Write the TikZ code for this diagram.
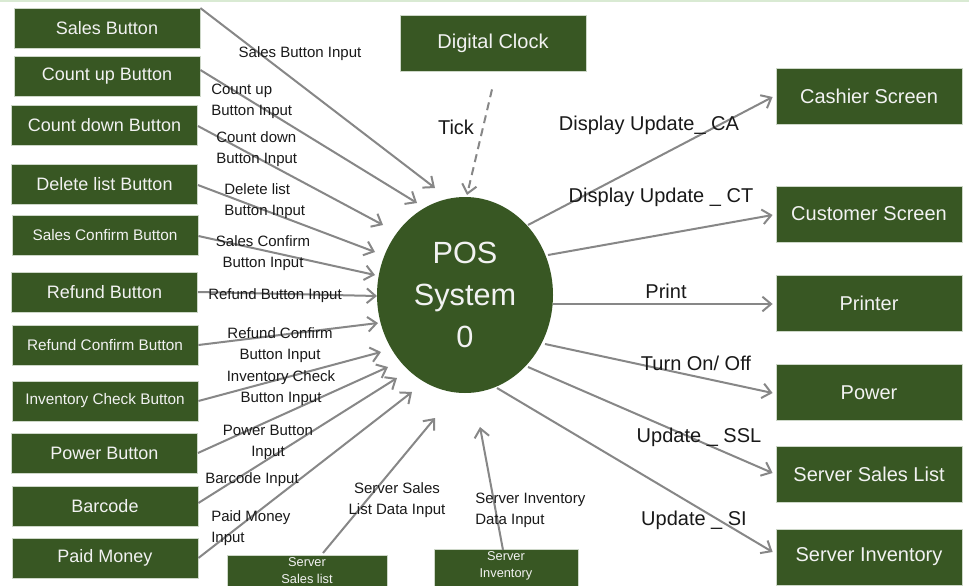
\documentclass[tikz,border=0pt]{standalone}
\usepackage{fontspec}
\setmainfont{Liberation Sans}
\usetikzlibrary{arrows.meta,shapes.geometric}
\definecolor{boxgreen}{RGB}{56,87,35}
\definecolor{boxedge}{RGB}{205,215,200}
\definecolor{linegray}{RGB}{135,135,135}
\definecolor{topgreen}{RGB}{217,234,211}
\definecolor{boxtext}{RGB}{242,242,242}
\definecolor{labtext}{RGB}{25,25,25}
\begin{document}
\begin{tikzpicture}[x=0.75pt,y=-0.75pt,
  gbox/.style={rectangle, fill=boxgreen, draw=boxedge, line width=0.6pt, text=boxtext, inner sep=0pt, align=center},
  lbox/.style={gbox, minimum width=139.5pt, minimum height=30pt, font=\fontsize{13.5}{16}\selectfont},
  sbox/.style={lbox, font=\fontsize{11.5}{14}\selectfont},
  rbox/.style={gbox, minimum width=139.5pt, minimum height=42pt, font=\fontsize{15}{18}\selectfont},
  bbtext/.style={inner sep=0pt, text=boxtext, align=center, font=\fontsize{9.6}{12.5}\selectfont},
  lab/.style={inner sep=0pt, text=labtext, font=\fontsize{11.25}{15.75}\selectfont},
  rlab/.style={inner sep=0pt, text=labtext, font=\fontsize{15}{18}\selectfont},
  flow/.style={draw=linegray, line width=1.5pt, -{Straight Barb[length=6.5pt,width=11pt]}},
]
\useasboundingbox (0,0) rectangle (969,585);
\clip (0,0) rectangle (969,585);
\fill[white] (0,0) rectangle (969,585);
\fill[topgreen] (0,0) rectangle (969,2.5);

% left boxes
\node[lbox] (sales) at (107,28.5) {Sales Button};
\node[lbox] (cu) at (107,76) {Count up Button};
\node[lbox] (cd) at (104.5,125) {Count down Button};
\node[lbox] (dl) at (104.5,184) {Delete list Button};
\node[sbox] (sc) at (105,235) {Sales Confirm Button};
\node[lbox] (rf) at (104.5,292) {Refund Button};
\node[sbox] (rc) at (105,345) {Refund Confirm Button};
\node[sbox] (ic) at (105,401) {Inventory Check Button};
\node[lbox] (pb) at (104.5,453) {Power Button};
\node[lbox] (bc) at (105,506) {Barcode};
\node[lbox] (pm) at (105,558) {Paid Money};

% top and right boxes
\node[rbox] (clock) at (493,43) {Digital Clock};
\node[rbox] (cash) at (869,96) {Cashier Screen};
\node[rbox] (cust) at (869,214) {Customer Screen};
\node[rbox] (prn) at (869,303) {Printer};
\node[rbox] (pwr) at (869,392.5) {Power};
\node[rbox] (ssl) at (869,474.5) {Server Sales List};
\node[rbox] (si) at (869,557) {Server Inventory};

% bottom boxes (cut by the frame)
\node[gbox, minimum width=120pt, minimum height=45pt, anchor=north] (ssb) at (307,555) {};
\node[bbtext] (ssbt) at (307,570.5) {Server\\Sales list};
\node[gbox, minimum width=108pt, minimum height=45pt, anchor=north] (sib) at (506,549) {};
\node[bbtext] (sibt) at (506,566) {Server\\Inventory};

% central process
\node[ellipse, fill=boxgreen, minimum width=132pt, minimum height=147pt, inner sep=0pt,
      text=boxtext, align=center, font=\fontsize{23}{31.5}\selectfont] (pos) at (465,295) {POS\\System\\0};

% input flows
\draw[flow] (sales.north east) -- ([shift={(-30,-107)}]pos.center);
\draw[flow] ([shift={(0,-6)}]cu.east) -- ([shift={(-48,-92)}]pos.center);
\draw[flow] ([shift={(0,1)}]cd.east) -- ([shift={(-82,-70)}]pos.center);
\draw[flow] ([shift={(0,1)}]dl.east) -- ([shift={(-90,-43)}]pos.center);
\draw[flow] ([shift={(0,1)}]sc.east) -- ([shift={(-90,-20)}]pos.center);
\draw[flow] (rf.east) -- ([shift={(-88,1)}]pos.center);
\draw[flow] (rc.east) -- ([shift={(-87,28)}]pos.center);
\draw[flow] (ic.east) -- ([shift={(-84,57)}]pos.center);
\draw[flow] (pb.east) -- ([shift={(-77,72)}]pos.center);
\draw[flow] ([shift={(0,-3)}]bc.east) -- ([shift={(-68,83)}]pos.center);
\draw[flow] (pm.east) -- ([shift={(-53,97)}]pos.center);
\draw[flow] ([shift={(16,-2)}]ssb.north) -- ([shift={(-30,123)}]pos.center);
\draw[flow] ([shift={(-3,1)}]sib.north) -- ([shift={(15,132)}]pos.center);
\draw[flow, dash pattern=on 6pt off 4pt] ([shift={(-1,18)}]clock.south) -- ([shift={(2,-100)}]pos.center);

% output flows
\draw[flow] ([shift={(63,-70)}]pos.center) -- ([shift={(-3,1)}]cash.west);
\draw[flow] ([shift={(83,-40)}]pos.center) -- ([shift={(-3,1)}]cust.west);
\draw[flow] ([shift={(88,9)}]pos.center) -- ([shift={(-3,1)}]prn.west);
\draw[flow] ([shift={(80,49)}]pos.center) -- ([shift={(-3,0.5)}]pwr.west);
\draw[flow] ([shift={(63,72)}]pos.center) -- ([shift={(-3,-1.5)}]ssl.west);
\draw[flow] ([shift={(32,93)}]pos.center) -- ([shift={(-3,-5)}]si.west);

% labels
\node[lab] (l1) at (300,54) {Sales Button Input};
\node[lab, anchor=west, align=left] (l2) at (211,101.5) {Count up\\Button Input};
\node[lab, anchor=west, align=left] (l3) at (216,149) {Count down\\Button Input};
\node[lab, anchor=west, align=left] (l4) at (224,201.5) {Delete list\\Button Input};
\node[lab, align=center] (l5) at (263,253.5) {Sales Confirm\\Button Input};
\node[lab] (l6) at (275,296) {Refund Button Input};
\node[lab, align=center] (l7) at (280,345.5) {Refund Confirm\\Button Input};
\node[lab, align=center] (l8) at (281,388) {Inventory Check\\Button Input};
\node[lab, align=center] (l9) at (268,442) {Power Button\\Input};
\node[lab] (l10) at (252,480) {Barcode Input};
\node[lab, anchor=west, align=left] (l11) at (211,528) {Paid Money\\Input};
\node[lab, align=center] (l12) at (397,500.5) {Server Sales\\List Data Input};
\node[lab, anchor=west, align=left] (l13) at (475,510.5) {Server Inventory\\Data Input};
\node[rlab] (tick) at (456,127) {Tick};
\node[rlab] (r1) at (649,125) {Display Update\_ CA};
\node[rlab] (r2) at (661,197) {Display Update \_ CT};
\node[rlab] (r3) at (666,291) {Print};
\node[rlab] (r4) at (696,363) {Turn On/ Off};
\node[rlab] (r5) at (699,437) {Update \_ SSL};
\node[rlab] (r6) at (694,520) {Update \_ SI};
\end{tikzpicture}
\end{document}
